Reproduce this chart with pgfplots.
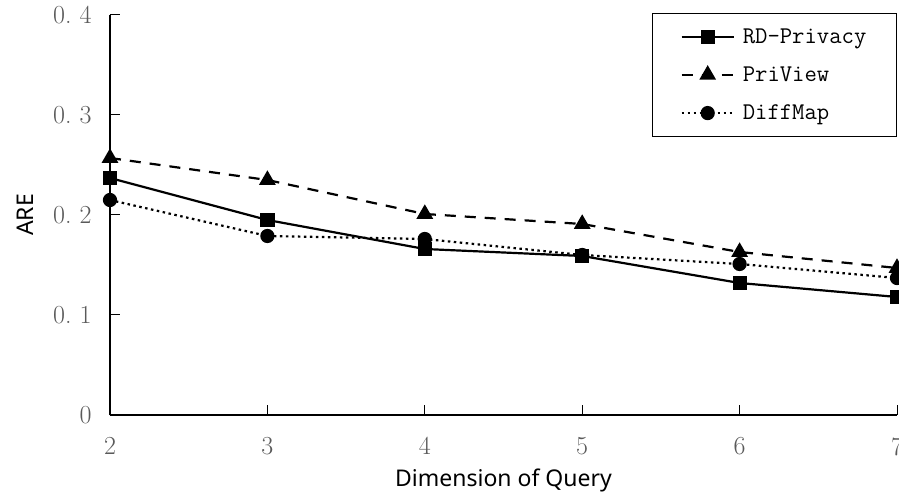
\documentclass[border=0pt]{standalone}
\usepackage{fontspec}
\setsansfont{Noto Sans}
\usepackage{pgfplots}
\pgfplotsset{compat=1.18}
\definecolor{ticklab}{RGB}{90,90,90}
\begin{document}
\begin{tikzpicture}
\useasboundingbox (-110pt,-85pt) rectangle (789pt,415pt);
\begin{axis}[
  at={(0,0)}, anchor=south west,
  scale only axis, width=787pt, height=400pt,
  xmin=2, xmax=7, ymin=0, ymax=0.4,
  axis x line*=bottom, axis y line*=left,
  axis line style={line width=1.2pt},
  /pgf/number format/assume math mode=true,
  xtick={2,3,4,5,6,7},
  ytick={0,0.1,0.2,0.3,0.4},
  yticklabels={0,{0.\ 1},{0.\ 2},{0.\ 3},{0.\ 4}},
  tick align=inside,
  major tick length=10pt,
  tick style={black, line width=1pt},
  xticklabel style={font=\fontsize{26}{28}\selectfont, text=ticklab, yshift=-19pt},
  yticklabel style={font=\fontsize{26}{28}\selectfont, text=ticklab, xshift=-15pt},
  xlabel={Dimension of Query},
  ylabel={ARE},
  xlabel style={font=\sffamily\fontsize{23}{26}\selectfont, at={(axis description cs:0.5,-0.18)}, anchor=base},
  ylabel style={font=\sffamily\fontsize{23}{26}\selectfont, at={(axis description cs:-0.108,0.5)}, anchor=center},
  clip=false,
  legend style={at={(1,1.005)}, anchor=north east, draw=black, line width=1.2pt,
    font=\ttfamily\fontsize{24}{28}\selectfont, row sep=18pt, inner xsep=28pt, inner ysep=13pt,
    nodes={inner sep=2pt},
    /tikz/every odd column/.append style={column sep=6pt}},
  legend cell align=left,
  legend image code/.code={\draw[mark repeat=2, mark phase=2] plot coordinates {(0pt,0pt) (26pt,0pt) (52pt,0pt)};},
]
% RD-Privacy
\addplot[black, line width=2.2pt, mark=square*, mark size=6pt] coordinates {
  (2,0.237)(3,0.195)(4,0.166)(5,0.159)(6,0.132)(7,0.118)
};
\addlegendentry{RD-Privacy}
% PriView
\addplot[black, line width=2.2pt, dash pattern=on 11pt off 9pt, mark=triangle*, mark size=7.5pt, mark options={solid}] coordinates {
  (2,0.257)(3,0.235)(4,0.201)(5,0.191)(6,0.163)(7,0.147)
};
\addlegendentry{PriView}
% DiffMap
\addplot[black, line width=2.2pt, dash pattern=on 2.5pt off 3.5pt, mark=*, mark size=6pt, mark options={solid}] coordinates {
  (2,0.215)(3,0.179)(4,0.176)(5,0.160)(6,0.151)(7,0.137)
};
\addlegendentry{DiffMap}
\end{axis}
\end{tikzpicture}
\end{document}
